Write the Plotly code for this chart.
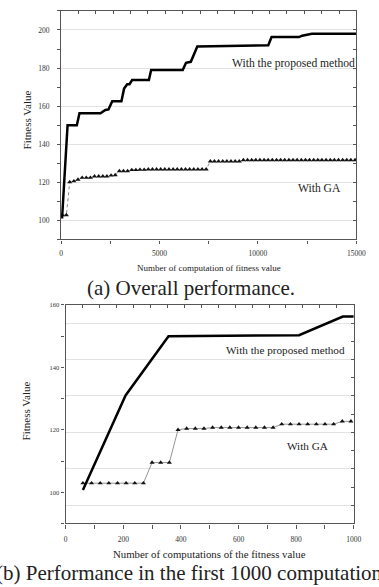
import plotly.graph_objects as go

# ---------------- (a) Overall performance ----------------
prop_a_x = [50, 330, 800, 935, 2000, 2250, 2410, 2600, 3065, 3200, 3360, 3475, 3610,
            4460, 4575, 6180, 6345, 6590, 6920, 8500, 10525, 10690, 12080, 12245,
            12740, 15000]
prop_a_y = [101, 150, 150, 156.3, 156.3, 158, 158.3, 162.6, 162.6, 169.2, 171.5, 171.5,
            173.7, 173.7, 179, 179, 182.8, 183.3, 191.3, 191.7, 192, 196.3, 196.3, 197,
            198, 198]

ga_a_x = [60, 270, 440, 650, 860, 1070, 1280, 1490, 1700, 1910, 2120, 2330, 2540, 2750,
          2960, 3170, 3380, 3590, 3800, 4010, 4220, 4430, 4640, 4850, 5060, 5270, 5480,
          5690, 5900, 6110, 6320, 6530, 6740, 6950, 7160, 7370, 7580, 7790, 8000, 8210,
          8420, 8630, 8840, 9050, 9260, 9470, 9680, 9890, 10100, 10310, 10520, 10730,
          10940, 11150, 11360, 11570, 11780, 11990, 12200, 12410, 12620, 12830, 13040,
          13250, 13460, 13670, 13880, 14090, 14300, 14510, 14720, 14930]
ga_a_y = [102.8, 102.8, 120.1, 120.6, 121.4, 122.4, 122.4, 122.4, 123.1, 123.1, 123.1,
          123.1, 123.6, 123.8, 125.9, 125.9, 125.9, 126.5, 126.5, 126.6, 126.6, 126.8,
          126.8, 126.8, 126.8, 126.8, 126.8, 126.8, 126.8, 126.8, 126.8, 126.8, 126.8,
          126.8, 126.8, 126.8, 131.0, 131.0, 131.0, 131.0, 131.0, 131.0, 131.0, 131.0,
          131.7, 131.7, 131.7, 131.7, 131.7, 131.7, 131.7, 131.7, 131.7, 131.7, 131.7,
          131.7, 131.7, 131.7, 131.7, 131.7, 131.7, 131.7, 131.7, 131.7, 131.7, 131.7,
          131.7, 131.7, 131.7, 131.7, 131.7, 131.7]

# ---------------- (b) First 1000 computations ----------------
prop_b_x = [60, 208, 357, 810, 962, 1000]
prop_b_y = [100.7, 131.0, 150.0, 150.3, 156.3, 156.3]

ga_b_x = [60, 90, 120, 150, 180, 210, 240, 270, 300, 330, 360, 390, 420, 450, 480, 510,
          540, 570, 600, 630, 660, 690, 720, 750, 780, 810, 840, 870, 900, 930, 960, 990]
ga_b_y = [102.9, 102.9, 102.9, 102.9, 102.9, 102.9, 102.9, 102.9, 109.5, 109.5, 109.5,
          120.0, 120.4, 120.4, 120.4, 120.7, 120.7, 120.7, 120.7, 120.7, 120.7, 120.7,
          120.7, 121.8, 121.8, 121.8, 121.8, 121.8, 121.8, 121.8, 122.7, 122.7]

SERIF = "Liberation Serif, Times New Roman, serif"
LINE = "#555"
TXT = "#222"

fig = go.Figure()

# (a) traces
fig.add_trace(go.Scatter(x=ga_a_x, y=ga_a_y, mode="lines+markers", xaxis="x", yaxis="y",
                         line=dict(color="#888", width=1, dash="dot"),
                         marker=dict(symbol="triangle-up", size=4.5, color="#111"),
                         showlegend=False, hoverinfo="skip"))
fig.add_trace(go.Scatter(x=prop_a_x, y=prop_a_y, mode="lines", xaxis="x", yaxis="y",
                         line=dict(color="#000", width=2.5),
                         showlegend=False, hoverinfo="skip"))
fig.add_trace(go.Scatter(x=[None], y=[None], xaxis="x3", yaxis="y3",
                         showlegend=False, hoverinfo="skip"))

# (b) traces
fig.add_trace(go.Scatter(x=ga_b_x, y=ga_b_y, mode="lines+markers", xaxis="x2", yaxis="y2",
                         line=dict(color="#888", width=0.9),
                         marker=dict(symbol="triangle-up", size=4.5, color="#111"),
                         showlegend=False, hoverinfo="skip"))
fig.add_trace(go.Scatter(x=prop_b_x, y=prop_b_y, mode="lines", xaxis="x2", yaxis="y2",
                         line=dict(color="#000", width=2.5),
                         showlegend=False, hoverinfo="skip"))
fig.add_trace(go.Scatter(x=[None], y=[None], xaxis="x4", yaxis="y4",
                         showlegend=False, hoverinfo="skip"))

def base(**kw):
    d = dict(showline=True, linecolor=LINE, linewidth=1.3, zeroline=False,
             showgrid=False, tickcolor=LINE, tickwidth=1, ticklen=3)
    d.update(kw)
    return d

H = 587.0
W = 379.0
def py(p):
    return 1 - p / H
def px(p):
    return p / W

dom_a_x = [px(61), px(366)]
dom_a_y = [py(237), py(7)]
dom_b_x = [px(65.7), px(363.3)]
dom_b_y = [py(523), py(303)]

TF = dict(size=7.5, family=SERIF, color="#333")

fig.update_layout(
    width=379, height=587,
    margin=dict(l=0, r=0, t=0, b=0),
    paper_bgcolor="white", plot_bgcolor="white",
    font=dict(family=SERIF, color=TXT),
    showlegend=False,
    # (a)
    xaxis=base(domain=dom_a_x, anchor="y", range=[0, 15000], tick0=0, dtick=5000,
               tickformat="d", ticks="outside", ticklabelstandoff=3, tickfont=TF,
               minor=dict(tick0=0, dtick=2500, ticks="outside", ticklen=3, tickcolor=LINE)),
    yaxis=base(domain=dom_a_y, anchor="x", range=[90, 210], tick0=100, dtick=20,
               tickformat="d", ticks="outside", ticklabelstandoff=6, tickfont=TF,
               minor=dict(tick0=0, dtick=10, ticks="outside", ticklen=3, tickcolor=LINE)),
    xaxis3=base(overlaying="x", anchor="y3", side="top", range=[0, 17], tick0=0, dtick=1,
                ticks="inside", showticklabels=False),
    yaxis3=base(overlaying="y", anchor="x3", side="right", range=[0, 12], tick0=1, dtick=2,
                ticks="inside", showticklabels=False, showgrid=True,
                gridcolor="#e2e2e2", gridwidth=1,
                minor=dict(tick0=0, dtick=1, ticks="inside", ticklen=3, tickcolor=LINE,
                           showgrid=False)),
    # (b)
    xaxis2=base(domain=dom_b_x, anchor="y2", range=[0, 1000], tick0=0, dtick=200,
                tickformat="d", ticks="outside", ticklen=4, ticklabelstandoff=4,
                tickfont=TF,
                minor=dict(tick0=0, dtick=100, ticks="outside", ticklen=4, tickcolor=LINE)),
    yaxis2=base(domain=dom_b_y, anchor="x2", range=[90, 160], tick0=100, dtick=20,
                tickformat="d", ticks="outside", ticklabelstandoff=1,
                tickfont=dict(size=6.5, family=SERIF, color="#333"),
                minor=dict(tick0=0, dtick=10, ticks="outside", ticklen=3, tickcolor=LINE)),
    xaxis4=base(overlaying="x2", anchor="y4", side="top", range=[0, 17], tick0=0, dtick=1,
                ticks="inside", showticklabels=False),
    yaxis4=base(overlaying="y2", anchor="x4", side="right", range=[0, 12], tick0=1, dtick=2,
                ticks="inside", showticklabels=False, showgrid=True,
                gridcolor="#e2e2e2", gridwidth=1,
                minor=dict(tick0=0, dtick=1, ticks="inside", ticklen=3, tickcolor=LINE,
                           showgrid=False)),
)

def ann(text, x, y, size, angle=0):
    fig.add_annotation(text=text, x=x, y=y, xref="paper", yref="paper",
                       xanchor="center", yanchor="middle", showarrow=False,
                       textangle=angle, font=dict(family=SERIF, size=size, color=TXT))

# (a) texts
ann("With the proposed method", px(301), py(60), 11.6)
ann("With GA", px(328), py(186), 11.6)
ann("Fitness Value", px(26), py(117), 11, -90)
ann("Number of computation of fitness value", px(213.5), py(266), 9)
ann("(a) Overall performance.", px(195.5), py(286), 21)

# (b) texts
ann("With the proposed method", px(293), py(348), 11.2)
ann("With GA", px(315), py(445), 11.2)
ann("Fitness Value", px(25), py(410), 11, -90)
ann("Number of computations of the fitness value", px(214.5), py(554), 10.8)
ann("(b) Performance in the first 1000 computations.", px(200), py(573), 21)

fig.write_html("out.html")
